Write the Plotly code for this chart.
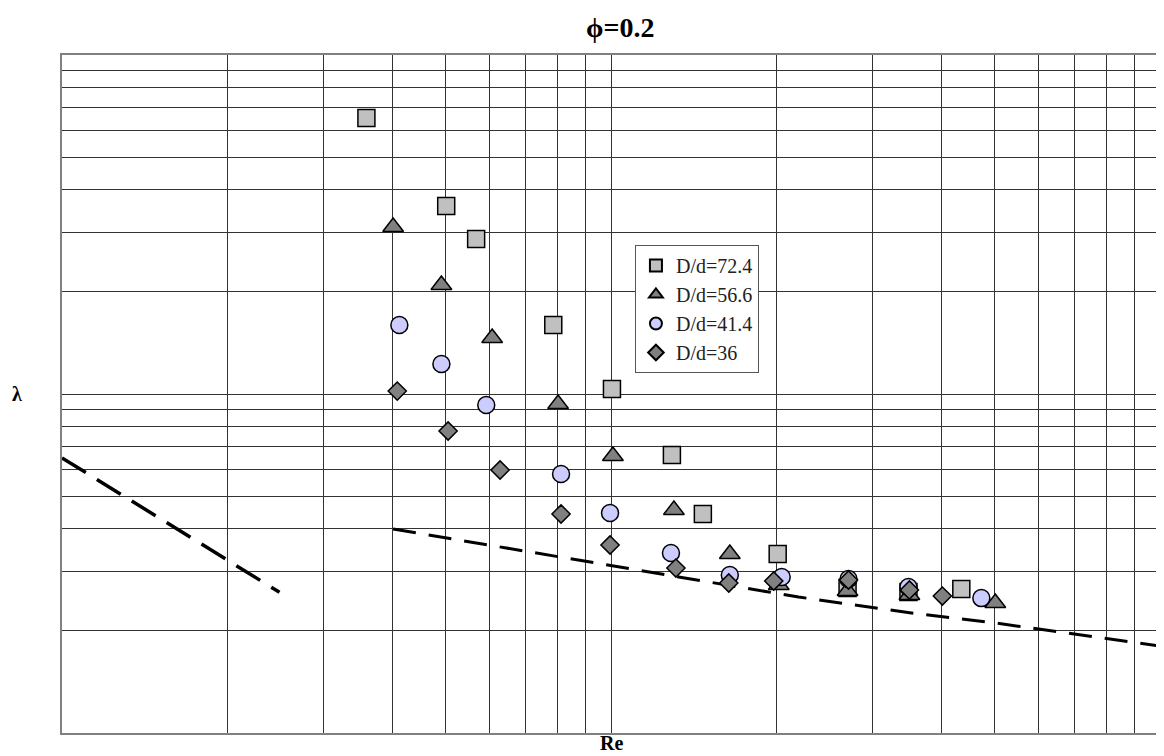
import plotly.graph_objects as go

# ---- data (Re, lambda) ----
re_724 = [358.5, 501, 568, 785, 1004, 1291, 1470, 2012, 2697, 3482, 4346]
lam_724 = [0.652, 0.3586, 0.2866, 0.1598, 0.1034, 0.0661, 0.04426, 0.03373, 0.02677, 0.02605, 0.02659]

re_566 = [401, 491, 607.5, 801, 1008, 1302, 1646, 2021, 2697, 3496, 5012]
lam_566 = [0.3109, 0.2097, 0.1463, 0.0934, 0.0656, 0.04548, 0.03373, 0.02733, 0.02623, 0.02553, 0.02417]

re_414 = [411.6, 491, 592.6, 811, 996, 1286, 1646, 2046, 2708, 3482, 4727]
lam_414 = [0.1598, 0.1226, 0.0928, 0.05808, 0.04457, 0.03396, 0.02924, 0.02885, 0.02846, 0.02696, 0.0250]

re_36 = [408, 505, 628, 811, 996, 1313, 1639, 1979, 2708, 3496, 4014]
lam_36 = [0.1020, 0.07778, 0.05967, 0.04426, 0.03586, 0.03066, 0.0277, 0.02808, 0.02827, 0.02641, 0.02535]

re_lam = [100, 249]
lam_lam = [0.0648, 0.0260]

re_turb = [401, 804.5, 1110, 1508, 2197, 3526, 5012, 10000]
lam_turb = [0.03997, 0.03305, 0.03025, 0.02788, 0.02518, 0.0226, 0.02111, 0.01805]

labels = ["D/d=72.4", "D/d=56.6", "D/d=41.4", "D/d=36"]

SERIF = "Liberation Serif, Times New Roman, serif"

fig = go.Figure()

fig.add_trace(go.Scatter(x=re_lam, y=lam_lam, mode="lines", showlegend=False,
                         line=dict(color="black", width=3.5, dash="28px,13px"), hoverinfo="skip"))
fig.add_trace(go.Scatter(x=re_turb, y=lam_turb, mode="lines", showlegend=False,
                         line=dict(color="black", width=3, dash="23px,13px"), hoverinfo="skip"))

series = [
    (re_724, lam_724, labels[0], "square", "#c0c0c0", 17),
    (re_566, lam_566, labels[1], "triangle-up", "#808080", 18),
    (re_414, lam_414, labels[2], "circle", "#ccccff", 17),
    (re_36, lam_36, labels[3], "diamond", "#808080", 14),
]
for i, (xs, ys, name, sym, col, sz) in enumerate(series):
    fig.add_trace(go.Scatter(
        x=xs, y=ys, mode="markers", name=name, legendgroup=f"g{i}",
        marker=dict(symbol=sym, color=col, size=sz, line=dict(color="black", width=1.5)),
    ))

axis_common = dict(
    type="log", dtick="D1", showticklabels=False, ticks="",
    showgrid=True, gridcolor="#333333", gridwidth=1,
    showline=True, linecolor="#808080", linewidth=2, mirror=True,
    zeroline=False,
)
fig.update_xaxes(range=[2, 4], **axis_common)
fig.update_yaxes(range=[-2, 0], **axis_common)

fig.update_layout(
    width=1156, height=748,
    margin=dict(l=54, r=2, t=47, b=23),
    paper_bgcolor="white", plot_bgcolor="white",
    font=dict(family=SERIF, color="black"),
    legend=dict(
        x=0.5218, y=0.7198, xanchor="left", yanchor="top",
        bgcolor="white", bordercolor="#555555", borderwidth=1,
        font=dict(family=SERIF, size=20, color="#222222"),
        itemsizing="constant", tracegroupgap=0,
    ),
    annotations=[
        dict(text="<b>ϕ=0.2</b>", xref="paper", yref="paper", x=0.508, y=1,
             xanchor="center", yanchor="middle", yshift=28, showarrow=False,
             font=dict(family=SERIF, size=28, color="black")),
        dict(text="<b>λ</b>", xref="paper", yref="paper", x=0, y=0.5,
             xanchor="center", yanchor="middle", xshift=-45, showarrow=False,
             font=dict(family=SERIF, size=20, color="black")),
        dict(text="<b>Re</b>", xref="paper", yref="paper", x=0.5, y=0,
             xanchor="center", yanchor="middle", yshift=-10, showarrow=False,
             font=dict(family=SERIF, size=20, color="black")),
    ],
)

fig.write_html("out.html")
